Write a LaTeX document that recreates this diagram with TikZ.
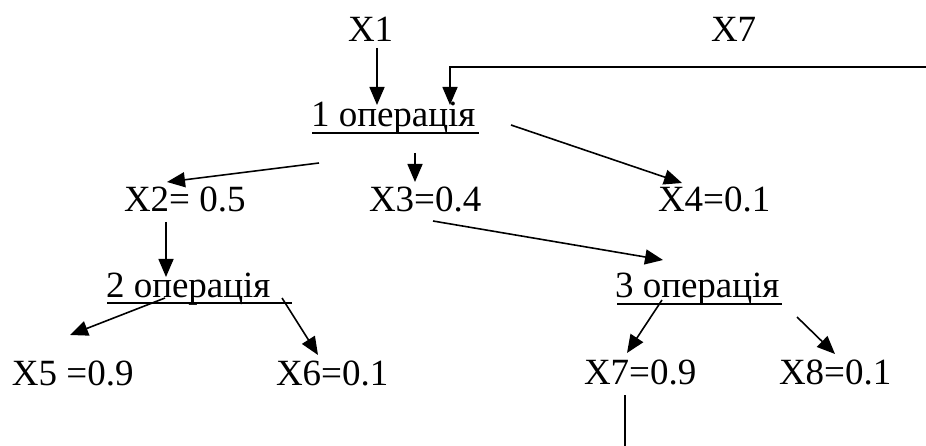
\documentclass[tikz,border=0pt]{standalone}
\usepackage{fontspec}
\setmainfont{Liberation Serif}
\newfontfamily\tnr{Liberation Serif}
\usetikzlibrary{arrows.meta}
\begin{document}
\begin{tikzpicture}[x=1pt,y=1pt,
  lbl/.style={anchor=base west,inner sep=0pt,outer sep=0pt,font=\tnr\fontsize{37}{42}\selectfont},
  conn/.style={line width=1.6pt,-{Triangle[length=18pt,width=15pt]}},
  plain/.style={line width=1.6pt},
  uline/.style={line width=1.9pt}]
\useasboundingbox[fill=white] (0,0) rectangle (926,-446);
% nodes
\node[lbl] (x1)  at (348,-42)  {X1};
\node[lbl] (x7t) at (711,-42)  {X7};
\node[lbl] (op1) at (311,-127) {1 операція};
\node[lbl] (x2)  at (124,-212) {X2= 0.5};
\node[lbl] (x3)  at (369,-212) {X3=0.4};
\node[lbl] (x4)  at (658,-212) {X4=0.1};
\node[lbl] (op2) at (106,-298) {2 операція};
\node[lbl] (op3) at (615,-298) {3 операція};
\node[lbl] (x5)  at (12,-385)  {X5 =0.9};
\node[lbl] (x6)  at (276,-385) {X6=0.1};
\node[lbl] (x7)  at (584,-384) {X7=0.9};
\node[lbl] (x8)  at (779,-384) {X8=0.1};
\coordinate (fbR) at (926,-67);
\coordinate (bot) at (625,-446);
% underlines
\draw[uline] ([shift={(1,-6)}]op1.base west) -- ([shift={(168,-6)}]op1.base west);
\draw[uline] ([shift={(1,-5)}]op2.base west) -- ([shift={(186,-5)}]op2.base west);
\draw[uline] ([shift={(2,-6)}]op3.base west) -- ([shift={(167,-6)}]op3.base west);
% connectors
\draw[conn] ([shift={(29,-6)}]x1.base west) -- ([shift={(66,22)}]op1.base west);
\draw[conn] (fbR) -| ([shift={(139,22)}]op1.base west);
\draw[conn] ([shift={(8,-36)}]op1.base west) -- ([shift={(43,30)}]x2.base west);
\draw[conn] ([shift={(104,-26)}]op1.base west) -- ([shift={(46,30)}]x3.base west);
\draw[conn] ([shift={(200,2)}]op1.base west) -- ([shift={(24,29)}]x4.base west);
\draw[conn] ([shift={(42,-10)}]x2.base west) -- ([shift={(60,21)}]op2.base west);
\draw[conn] ([shift={(64,-9)}]x3.base west) -- ([shift={(48,38)}]op3.base west);
\draw[conn] ([shift={(59,0)}]op2.base west) -- ([shift={(58,50)}]x5.base west);
\draw[conn] ([shift={(176,0)}]op2.base west) -- ([shift={(42,30)}]x6.base west);
\draw[conn] ([shift={(47,-2)}]op3.base west) -- ([shift={(43,31)}]x7.base west);
\draw[conn] ([shift={(182,-19)}]op3.base west) -- ([shift={(56,30)}]x8.base west);
\draw[plain] ([shift={(41,-11)}]x7.base west) -- (bot);
\end{tikzpicture}
\end{document}
